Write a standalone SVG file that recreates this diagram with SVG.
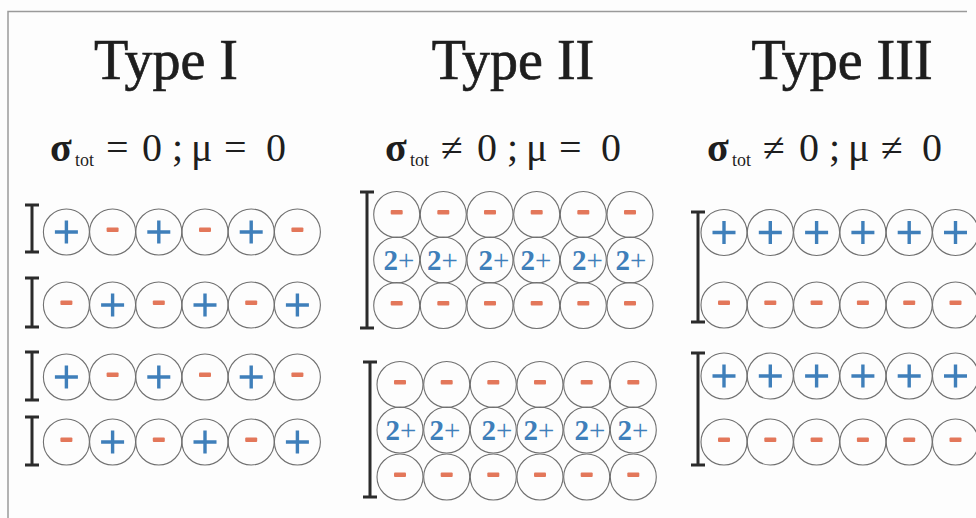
<svg xmlns="http://www.w3.org/2000/svg" xmlns:xlink="http://www.w3.org/1999/xlink" width="976" height="518" viewBox="0 0 976 518">
<style>
.ion{fill:none;stroke:#707070;stroke-width:1.1}
.plus{stroke:#3f7fba;stroke-width:3.4;fill:none}
.minus{fill:#e3775a}
.br{stroke:#2b2b2b;stroke-width:3;fill:none}
.title{font-family:"Liberation Serif","Times New Roman",serif;font-size:56px;fill:#1e1e1e;stroke:#1e1e1e;stroke-width:0.7;text-anchor:middle}
.sub{font-family:"Liberation Serif","Times New Roman",serif;font-size:40px;fill:#1e1e1e}
.sig{font-weight:bold}
.tot{font-size:18px}
.di{font-family:"Liberation Serif","Times New Roman",serif;font-size:29px;fill:#3f7fba;text-anchor:middle}
</style>
<defs>
<g id="pos"><circle r="23" class="ion"/><path d="M-11.5 0H11.5M0 -11.5V11.5" class="plus"/></g>
<g id="neg"><circle r="23" class="ion"/><rect x="-6" y="-4.5" width="12" height="4.5" rx="1" class="minus"/></g>
<circle id="dic" r="23" class="ion"/>
</defs>
<rect width="976" height="518" fill="#fdfdfd"/>
<path d="M8 518V11.5H967" stroke="#9a9a9a" stroke-width="1.5" fill="none"/>

<g id="type1">
<text class="title" x="166" y="79">Type I</text>
<text class="sub" y="161"><tspan x="50" class="sig">σ</tspan><tspan x="75" dy="5" class="tot">tot</tspan><tspan x="106" dy="-5">=</tspan><tspan x="142">0</tspan><tspan x="172">;</tspan><tspan x="191">μ</tspan><tspan x="224">=</tspan><tspan x="266">0</tspan></text>
<g id="t1-row1">
<use xlink:href="#pos" x="66.4" y="232"/><use xlink:href="#neg" x="112.6" y="232"/><use xlink:href="#pos" x="158.8" y="232"/><use xlink:href="#neg" x="205" y="232"/><use xlink:href="#pos" x="251.2" y="232"/><use xlink:href="#neg" x="297.4" y="232"/>
</g>
<g id="t1-row2">
<use xlink:href="#neg" x="66.4" y="305"/><use xlink:href="#pos" x="112.6" y="305"/><use xlink:href="#neg" x="158.8" y="305"/><use xlink:href="#pos" x="205" y="305"/><use xlink:href="#neg" x="251.2" y="305"/><use xlink:href="#pos" x="297.4" y="305"/>
</g>
<g id="t1-row3">
<use xlink:href="#pos" x="66.4" y="377"/><use xlink:href="#neg" x="112.6" y="377"/><use xlink:href="#pos" x="158.8" y="377"/><use xlink:href="#neg" x="205" y="377"/><use xlink:href="#pos" x="251.2" y="377"/><use xlink:href="#neg" x="297.4" y="377"/>
</g>
<g id="t1-row4">
<use xlink:href="#neg" x="66.4" y="442"/><use xlink:href="#pos" x="112.6" y="442"/><use xlink:href="#neg" x="158.8" y="442"/><use xlink:href="#pos" x="205" y="442"/><use xlink:href="#neg" x="251.2" y="442"/><use xlink:href="#pos" x="297.4" y="442"/>
</g>
<path class="br" d="M25 205H39M32 205V252M25 252H39M25 278H39M32 278V327M25 327H39M25 352H39M32 352V400M25 400H39M25 417H39M32 417V465M25 465H39"/>
</g>

<g id="type2">
<text class="title" x="513" y="79">Type II</text>
<text class="sub" y="161"><tspan x="385" class="sig">σ</tspan><tspan x="410" dy="5" class="tot">tot</tspan><tspan x="441" dy="-5">≠</tspan><tspan x="477">0</tspan><tspan x="507">;</tspan><tspan x="526">μ</tspan><tspan x="559">=</tspan><tspan x="601">0</tspan></text>
<g id="t2a-row1">
<use xlink:href="#neg" x="396.7" y="214.5"/><use xlink:href="#neg" x="443.3" y="214.5"/><use xlink:href="#neg" x="490" y="214.5"/><use xlink:href="#neg" x="536.7" y="214.5"/><use xlink:href="#neg" x="583.3" y="214.5"/><use xlink:href="#neg" x="630" y="214.5"/>
</g>
<g id="t2a-row2">
<use xlink:href="#dic" x="396.7" y="260"/><use xlink:href="#dic" x="443.3" y="260"/><use xlink:href="#dic" x="490" y="260"/><use xlink:href="#dic" x="536.7" y="260"/><use xlink:href="#dic" x="583.3" y="260"/><use xlink:href="#dic" x="630" y="260"/>
<text class="di" x="399" y="270"><tspan font-weight="bold">2</tspan>+</text>
<text class="di" x="442.5" y="270"><tspan font-weight="bold">2</tspan>+</text>
<text class="di" x="494" y="270"><tspan font-weight="bold">2</tspan>+</text>
<text class="di" x="536" y="270"><tspan font-weight="bold">2</tspan>+</text>
<text class="di" x="587.5" y="270"><tspan font-weight="bold">2</tspan>+</text>
<text class="di" x="631" y="270"><tspan font-weight="bold">2</tspan>+</text>
</g>
<g id="t2a-row3">
<use xlink:href="#neg" x="396.7" y="305.5"/><use xlink:href="#neg" x="443.3" y="305.5"/><use xlink:href="#neg" x="490" y="305.5"/><use xlink:href="#neg" x="536.7" y="305.5"/><use xlink:href="#neg" x="583.3" y="305.5"/><use xlink:href="#neg" x="630" y="305.5"/>
</g>
<g id="t2b-row1">
<use xlink:href="#neg" x="400" y="384.5"/><use xlink:href="#neg" x="446.7" y="384.5"/><use xlink:href="#neg" x="493.3" y="384.5"/><use xlink:href="#neg" x="540" y="384.5"/><use xlink:href="#neg" x="586.7" y="384.5"/><use xlink:href="#neg" x="633.3" y="384.5"/>
</g>
<g id="t2b-row2">
<use xlink:href="#dic" x="400" y="430"/><use xlink:href="#dic" x="446.7" y="430"/><use xlink:href="#dic" x="493.3" y="430"/><use xlink:href="#dic" x="540" y="430"/><use xlink:href="#dic" x="586.7" y="430"/><use xlink:href="#dic" x="633.3" y="430"/>
<text class="di" x="401" y="440"><tspan font-weight="bold">2</tspan>+</text>
<text class="di" x="445" y="440"><tspan font-weight="bold">2</tspan>+</text>
<text class="di" x="497" y="440"><tspan font-weight="bold">2</tspan>+</text>
<text class="di" x="539" y="440"><tspan font-weight="bold">2</tspan>+</text>
<text class="di" x="590" y="440"><tspan font-weight="bold">2</tspan>+</text>
<text class="di" x="633" y="440"><tspan font-weight="bold">2</tspan>+</text>
</g>
<g id="t2b-row3">
<use xlink:href="#neg" x="400" y="477"/><use xlink:href="#neg" x="446.7" y="477"/><use xlink:href="#neg" x="493.3" y="477"/><use xlink:href="#neg" x="540" y="477"/><use xlink:href="#neg" x="586.7" y="477"/><use xlink:href="#neg" x="633.3" y="477"/>
</g>
<path class="br" d="M360 192H374M367 192V328M360 328H374M363 362H377M370 362V497M363 497H377"/>
</g>

<g id="type3">
<text class="title" x="842" y="79">Type III</text>
<text class="sub" y="161"><tspan x="707" class="sig">σ</tspan><tspan x="732" dy="5" class="tot">tot</tspan><tspan x="763" dy="-5">≠</tspan><tspan x="799">0</tspan><tspan x="829">;</tspan><tspan x="848">μ</tspan><tspan x="881">≠</tspan><tspan x="922">0</tspan></text>
<g id="t3-row1">
<use xlink:href="#pos" x="724" y="232.5"/><use xlink:href="#pos" x="770.3" y="232.5"/><use xlink:href="#pos" x="816.6" y="232.5"/><use xlink:href="#pos" x="862.9" y="232.5"/><use xlink:href="#pos" x="909.2" y="232.5"/><use xlink:href="#pos" x="955.5" y="232.5"/>
</g>
<g id="t3-row2">
<use xlink:href="#neg" x="724" y="305"/><use xlink:href="#neg" x="770.3" y="305"/><use xlink:href="#neg" x="816.6" y="305"/><use xlink:href="#neg" x="862.9" y="305"/><use xlink:href="#neg" x="909.2" y="305"/><use xlink:href="#neg" x="955.5" y="305"/>
</g>
<g id="t3-row3">
<use xlink:href="#pos" x="724" y="376"/><use xlink:href="#pos" x="770.3" y="376"/><use xlink:href="#pos" x="816.6" y="376"/><use xlink:href="#pos" x="862.9" y="376"/><use xlink:href="#pos" x="909.2" y="376"/><use xlink:href="#pos" x="955.5" y="376"/>
</g>
<g id="t3-row4">
<use xlink:href="#neg" x="724" y="442"/><use xlink:href="#neg" x="770.3" y="442"/><use xlink:href="#neg" x="816.6" y="442"/><use xlink:href="#neg" x="862.9" y="442"/><use xlink:href="#neg" x="909.2" y="442"/><use xlink:href="#neg" x="955.5" y="442"/>
</g>
<path class="br" d="M691 212H705M698 212V322M691 322H705M691 353H705M698 353V465M691 465H705"/>
</g>
</svg>
